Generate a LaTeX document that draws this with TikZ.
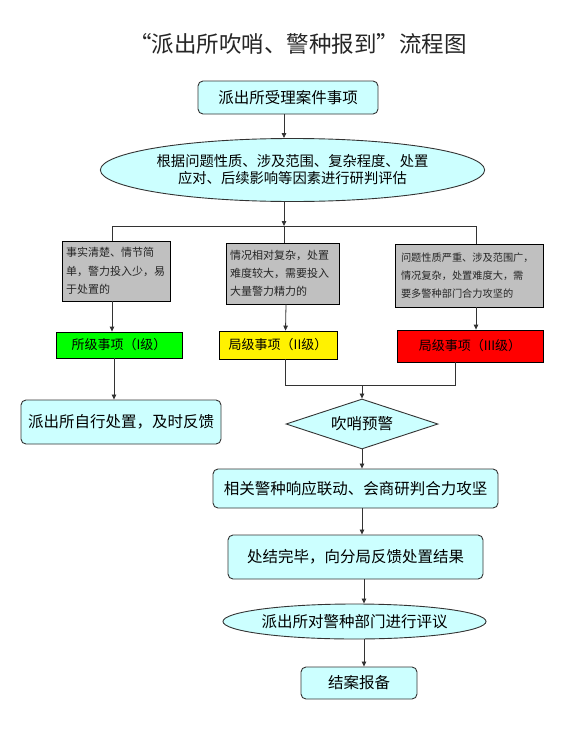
\documentclass[tikz,border=0pt]{standalone}
\usepackage{fontspec}
\setmainfont{Noto Sans CJK SC}
\usetikzlibrary{shapes.geometric,arrows.meta}
\definecolor{boxcyan}{HTML}{CCFFFF}
\definecolor{boxgrey}{HTML}{C0C0C0}
\definecolor{edge}{HTML}{333333}
\tikzset{
  cyanbox/.style={draw=edge, line width=0.9pt, fill=boxcyan, rounded corners=5pt, inner sep=0pt, font=\fontsize{15.5}{18}\selectfont},
  cyanell/.style={draw=edge, line width=0.9pt, fill=boxcyan, ellipse, inner sep=0pt, align=center},
  greybox/.style={draw=black, line width=0.8pt, fill=boxgrey, inner sep=0pt, align=left, text=black!85},
  levelbox/.style={draw=black, line width=0.8pt, inner sep=0pt, font=\fontsize{13}{15}\selectfont},
  conn/.style={draw=edge, line width=0.8pt},
  arr/.style={conn, -{Triangle[length=5pt,width=4.5pt]}},
}
\begin{document}
\begin{tikzpicture}[x=1pt,y=-1pt]
\useasboundingbox (0,0) rectangle (578,731);
\fill[white] (0,0) rectangle (578,731);
\node[text=black!85, font=\fontsize{22.5}{26}\selectfont] (title) at (298,44) {“派出所吹哨、警种报到”流程图};
\node[cyanbox, minimum width=180pt, minimum height=33pt] (n1) at (288,97.5) {派出所受理案件事项};
\node[cyanell, minimum width=312pt, minimum height=63pt, font=\fontsize{14.3}{17}\selectfont] (n2) at (292.5,170) {根据问题性质、涉及范围、复杂程度、处置\\应对、后续影响等因素进行研判评估};
\coordinate (spine) at (284,0);
\coordinate (hl) at (112,226);
\coordinate (hm) at (284,226);
\coordinate (hr) at (476,226);
\node[greybox, minimum width=108pt, minimum height=60pt, text width=100pt, font=\fontsize{11}{18.3}\selectfont] (g1) at (116,271) {事实清楚、情节简\\单，警力投入少，易\\于处置的};
\node[greybox, minimum width=113pt, minimum height=61pt, text width=105pt, font=\fontsize{11}{18.3}\selectfont] (g2) at (282.5,273.5) {情况相对复杂，处置\\难度较大，需要投入\\大量警力精力的};
\node[greybox, minimum width=148pt, minimum height=63pt, text width=136pt, font=\fontsize{10.2}{18.3}\selectfont] (g3) at (469,275.5) {问题性质严重、涉及范围广，\\情况复杂，处置难度大，需\\要多警种部门合力攻坚的};
\node[levelbox, fill=green, minimum width=126pt, minimum height=26pt] (l1) at (119,345) {所级事项（I级）};
\node[levelbox, fill=yellow, minimum width=118pt, minimum height=28pt] (l2) at (278,345) {局级事项（II级）};
\node[levelbox, fill=red, minimum width=146pt, minimum height=32pt] (l3) at (470,346) {局级事项（III级）};
\node[cyanbox, minimum width=200pt, minimum height=44pt] (a) at (121,422) {派出所自行处置，及时反馈};
\node[draw=edge, line width=0.9pt, fill=boxcyan, diamond, aspect=3.04, minimum width=152pt, minimum height=50pt, inner sep=0pt, font=\fontsize{15.5}{18}\selectfont] (d) at (362,424) {吹哨预警};
\node[cyanbox, minimum width=285pt, minimum height=39pt] (b) at (355.5,488.5) {相关警种响应联动、会商研判合力攻坚};
\node[cyanbox, minimum width=255pt, minimum height=44pt] (c) at (355.5,557) {处结完毕，向分局反馈处置结果};
\node[cyanell, minimum width=257pt, minimum height=35pt, font=\fontsize{15.5}{18}\selectfont] (e) at (354.5,621.5) {派出所对警种部门进行评议};
\node[cyanbox, minimum width=116pt, minimum height=32pt] (f) at (359,683) {结案报备};
\coordinate (jl) at (285,385);
\coordinate (jr) at (455,385);
\coordinate (jm) at (362,385);
% connectors
\draw[arr] (n1.south -| spine) -- (n2.north -| spine);
\draw[arr] (n2.south -| spine) -- (hm);
\draw[conn] (hl) -- (hr);
\draw[conn] (hl) -- (g1.north -| hl);
\draw[conn] (hm) -- (g2.north -| hm);
\draw[conn] (hr) -- (g3.north -| hr);
\draw[arr] (g1.south -| hl) -- (l1.north -| hl);
\draw[arr] ([xshift=3.5pt]g2.south) -- ([xshift=7.5pt]l2.north);
\draw[arr] (g3.south -| hr) -- (l3.north -| hr);
\draw[arr] ([xshift=-5pt]l1.south) -- ([xshift=-7pt]a.north);
\draw[conn] (l2.south -| jl) -- (jl) -- (jr) -- (l3.south -| jr);
\draw[arr] (jm) -- (d.north);
\draw[arr] (d.south) -- (b.north -| d.south);
\draw[arr] (b.south -| d.south) -- (c.north -| d.south);
\coordinate (s2) at (364,0);
\draw[arr] (c.south -| s2) -- (e.north -| s2);
\draw[arr] (e.south -| s2) -- (f.north -| s2);
\end{tikzpicture}
\end{document}
